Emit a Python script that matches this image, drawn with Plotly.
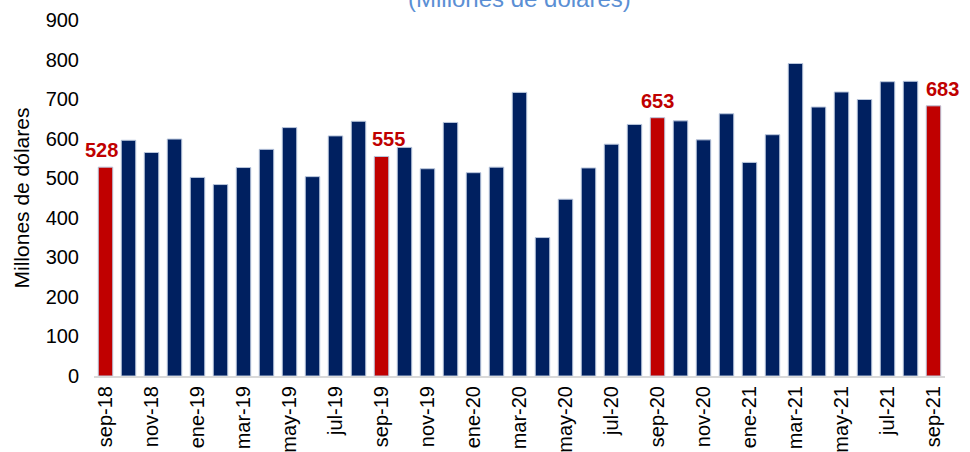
import plotly.graph_objects as go

months = ["sep-18","oct-18","nov-18","dic-18","ene-19","feb-19","mar-19","abr-19","may-19","jun-19","jul-19","ago-19",
          "sep-19","oct-19","nov-19","dic-19","ene-20","feb-20","mar-20","abr-20","may-20","jun-20","jul-20","ago-20",
          "sep-20","oct-20","nov-20","dic-20","ene-21","feb-21","mar-21","abr-21","may-21","jun-21","jul-21","ago-21","sep-21"]
values = [528, 596, 565, 599, 502, 484, 527, 573, 628, 504, 607, 644,
          555, 578, 524, 641, 514, 528, 717, 350, 447, 526, 586, 636,
          653, 645, 597, 663, 540, 610, 790, 680, 718, 699, 744, 745, 683]
highlight = ["sep-18", "sep-19", "sep-20", "sep-21"]
tick_labels = months[::2]
y_ticks = [0, 100, 200, 300, 400, 500, 600, 700, 800, 900]

NAVY = "#002060"
RED = "#C00000"
colors = [RED if m in highlight else NAVY for m in months]

fig = go.Figure()
fig.add_trace(go.Bar(
    x=months, y=values,
    marker=dict(color=colors, line=dict(color="#B9C6DC", width=1)),
    width=0.63,
    hoverinfo="x+y",
))

xshift = {"sep-18": -4, "sep-19": 7, "sep-20": 0, "sep-21": 9}
for m, v in zip(months, values):
    if m in highlight:
        fig.add_annotation(x=m, y=v, text=f"<b>{v}</b>", showarrow=False,
                           yanchor="bottom", yshift=4, xshift=xshift[m],
                           font=dict(family="Liberation Sans, Arial", size=20, color=RED))

fig.add_annotation(xref="paper", yref="paper", x=0.5, y=1.06, xanchor="center", yanchor="middle",
                   text="(Millones de dólares)", showarrow=False,
                   font=dict(family="Liberation Sans, Arial", size=24, color="#5B8FD4"))

fig.update_layout(
    width=970, height=452,
    margin=dict(l=94, r=25, t=20, b=76, autoexpand=False),
    plot_bgcolor="white", paper_bgcolor="white",
    showlegend=False,
    bargap=0.37,
    font=dict(family="Liberation Sans, Arial", size=20, color="#000000"),
)
fig.update_xaxes(
    type="category", automargin=False, range=[-0.5, len(months) - 0.5],
    tickmode="array", tickvals=tick_labels, ticktext=tick_labels,
    tickangle=-90, tickfont=dict(size=20),
    showline=True, linecolor="#D9D9D9", linewidth=2,
    showgrid=False, ticks="", ticklen=0,
)
fig.update_yaxes(
    range=[0, 900], tickmode="array", tickvals=y_ticks, automargin=False,
    tickfont=dict(size=20), ticklabelstandoff=14,
    showgrid=False, zeroline=False, showline=False,
    title=dict(text="Millones de dólares", font=dict(size=21), standoff=10),
)

fig.write_html("out.html", config={"displayModeBar": False},
               post_script="document.body.style.margin='0';document.body.style.overflow='hidden';")
